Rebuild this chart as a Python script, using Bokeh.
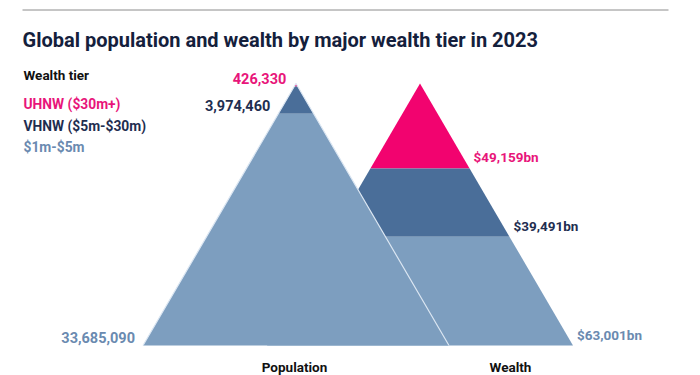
from bokeh.plotting import figure
from bokeh.models import Range1d, Label
from bokeh.embed import file_html
from bokeh.resources import INLINE

# ---- data ----
tiers = ["UHNW ($30m+)", "VHNW ($5m-$30m)", "$1m-$5m"]
population = [426330, 3974460, 33685090]
wealth_bn = [49159, 39491, 63001]
pillars = ["Population", "Wealth"]

title = "Global population and wealth by major wealth tier in 2023"
legend_title = "Wealth tier"

# ---- styles / layout ----
FONT = "Roboto"
NAVY = "#14203c"
fills = ["#f2036f", "#4a6e99", "#7d9ebf"]
label_colors = ["#e8157a", "#1f2e50", "#6a8ab0"]

W, H = 700, 375
APEX_Y, BASE_Y = 83, 345
HALF_BASE = 153
CENTERS = [295.5, 419.5]

p = figure(width=W, height=H, output_backend="svg", toolbar_location=None,
           x_range=Range1d(0, W), y_range=Range1d(H, 0),
           min_border=0, x_axis_type=None, y_axis_type=None)
p.outline_line_color = None
p.grid.visible = False
p.background_fill_color = "white"
p.border_fill_color = "white"


def bands(values):
    total = float(sum(values))
    cum = 0.0
    out = []
    for v in values:
        top = cum / total
        cum += v
        bot = cum / total
        out.append((top, bot))
    return out


def y_of(share):
    return APEX_Y + share * (BASE_Y - APEX_Y)


def half_w(y):
    return HALF_BASE * (y - APEX_Y) / (BASE_Y - APEX_Y)


def draw_pyramid(values, cx, outline=False):
    xs, ys = [], []
    for (t, b) in bands(values):
        yt, yb = y_of(t), y_of(b)
        xs.append([cx - half_w(yt), cx + half_w(yt), cx + half_w(yb), cx - half_w(yb)])
        ys.append([yt, yt, yb, yb])
    p.patches(xs, ys, fill_color=fills, line_color=None)
    if outline:
        p.line([cx - HALF_BASE, cx, cx + HALF_BASE],
               [BASE_Y, APEX_Y, BASE_Y], line_color="#dbe6f2", line_width=1.2)
    return bands(values)


# wealth drawn first, population on top
wb = draw_pyramid(wealth_bn, CENTERS[1])
pb = draw_pyramid(population, CENTERS[0], outline=True)

# value labels
for i, (v, (t, b)) in enumerate(zip(population, pb)):
    yb = y_of(b)
    p.add_layout(Label(x=CENTERS[0] - half_w(yb) - 8, y=yb - 8, text=f"{v:,}",
                       text_align="right", text_baseline="middle",
                       text_font=FONT, text_font_style="bold",
                       text_font_size="14.5px", text_color=label_colors[i]))
for i, (v, (t, b)) in enumerate(zip(wealth_bn, wb)):
    yb = y_of(b)
    p.add_layout(Label(x=CENTERS[1] + half_w(yb) + 4, y=yb - 11, text=f"${v:,}bn",
                       text_align="left", text_baseline="middle",
                       text_font=FONT, text_font_style="bold",
                       text_font_size="13.5px", text_color=label_colors[i]))

# pillar labels
for name, cx in zip(pillars, [294, 510]):
    p.add_layout(Label(x=cx, y=366, text=name, text_align="center",
                       text_baseline="middle", text_font=FONT,
                       text_font_style="bold", text_font_size="13.5px",
                       text_color="#111111"))

# title and rule
p.line([22, 668], [9.5, 9.5], line_color="#8c8c8c", line_width=1)
p.add_layout(Label(x=22, y=39, text=title, text_align="left",
                   text_baseline="alphabetic", text_font=FONT,
                   text_font_style="bold", text_font_size="20px",
                   text_color=NAVY))

# legend
p.add_layout(Label(x=23, y=74, text=legend_title, text_align="left",
                   text_baseline="middle", text_font=FONT,
                   text_font_style="bold", text_font_size="13.5px",
                   text_color="#111111"))
for i, (name, yy) in enumerate(zip(tiers, [103, 125, 146])):
    p.add_layout(Label(x=23, y=yy, text=name, text_align="left",
                       text_baseline="middle", text_font=FONT,
                       text_font_style="bold", text_font_size="13.8px",
                       text_color=label_colors[i]))

open("out.html", "w").write(file_html(p, INLINE))
